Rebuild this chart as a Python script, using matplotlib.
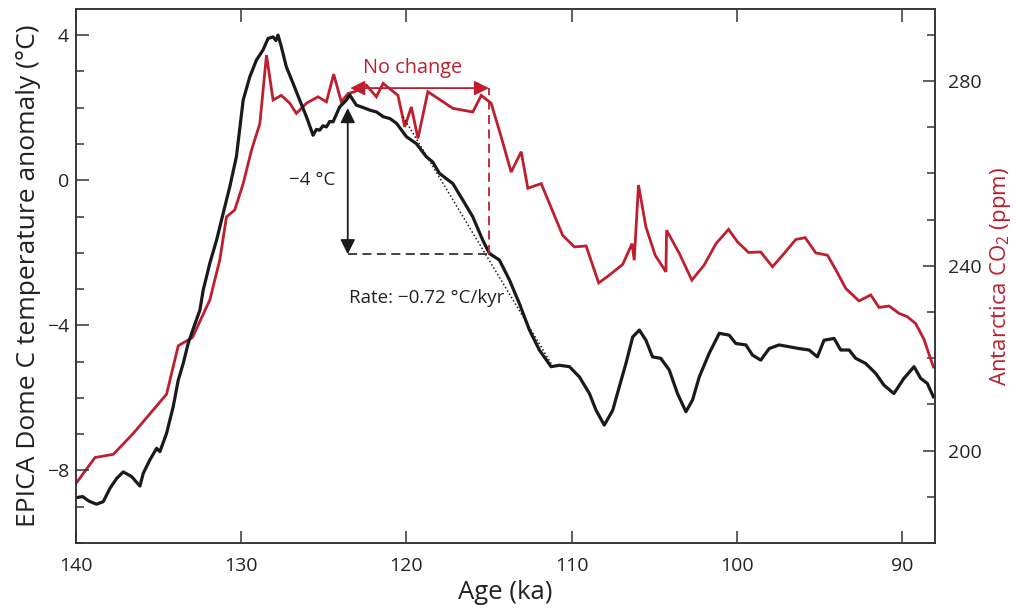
import matplotlib.pyplot as plt
from matplotlib.ticker import MultipleLocator

plt.rcParams['font.family'] = ['Open Sans', 'DejaVu Sans']
plt.rcParams['mathtext.default'] = 'regular'
plt.rcParams['axes.unicode_minus'] = True

# EPICA Dome C temperature anomaly (age in ka, anomaly in °C)
temp_age = [140.0, 139.6, 139.2, 138.75, 138.35, 137.94, 137.54, 137.14, 136.9, 136.63, 136.13, 135.93,
            135.53, 135.12, 134.92, 134.52, 134.12, 133.81, 133.51, 133.21, 132.9,
            132.5, 132.3, 131.9, 131.49, 131.09, 130.69, 130.29, 129.88, 129.48,
            129.08, 128.68, 128.37, 128.07, 127.9, 127.77, 127.57, 127.27, 126.86, 126.46,
            126.05, 125.65, 125.45, 125.25, 125.05, 124.84, 124.64, 124.44, 124.04, 123.63, 123.43, 123.03,
            122.6, 122.2, 121.8, 121.4, 121.0, 120.6, 120.0, 119.4, 118.8, 118.4, 118.0, 117.6, 117.19,
            116.58, 115.98, 115.38, 114.97, 114.37, 113.76, 113.16, 112.55, 111.95, 111.24, 110.74,
            110.13, 109.53, 108.92, 108.52, 108.02, 107.51, 107.11, 106.71, 106.3,
            105.9, 105.5, 105.1, 104.6, 104.09, 103.59, 103.08, 102.68, 102.27,
            101.67, 101.06, 100.46, 100.06, 99.45, 99.05, 98.55, 98.04, 97.44,
            96.83, 96.23, 95.62, 95.12, 94.72, 94.11, 93.71, 93.2, 92.8, 92.2, 91.6,
            91.09, 90.49, 89.88, 89.27, 88.87, 88.47, 88.1]
temp_val = [-8.75, -8.72, -8.85, -8.93, -8.86, -8.49, -8.22, -8.04, -8.1, -8.17, -8.43, -8.08,
            -7.71, -7.39, -7.48, -6.98, -6.25, -5.51, -5.05, -4.5, -4.09,
            -3.58, -3.03, -2.29, -1.65, -0.91, -0.18, 0.65, 2.21, 2.85,
            3.31, 3.59, 3.91, 3.95, 3.85, 4.0, 3.68, 3.13, 2.67, 2.21,
            1.75, 1.24, 1.4, 1.38, 1.5, 1.47, 1.62, 1.61, 2.02, 2.21, 2.35, 2.07,
            2.0, 1.93, 1.88, 1.75, 1.7, 1.57, 1.2, 1.01, 0.65, 0.5, 0.19, 0.05, -0.09,
            -0.55, -1.01, -1.65, -2.02, -2.2, -2.75, -3.4, -4.13, -4.68, -5.14, -5.1,
            -5.14, -5.42, -5.88, -6.34, -6.75, -6.34, -5.69, -5.05, -4.32,
            -4.13, -4.41, -4.87, -4.91, -5.23, -5.88, -6.38, -6.06, -5.42,
            -4.77, -4.22, -4.27, -4.5, -4.54, -4.82, -4.96, -4.64, -4.54,
            -4.59, -4.64, -4.68, -4.87, -4.41, -4.36, -4.68, -4.68, -4.91, -5.05, -5.32,
            -5.65, -5.88, -5.46, -5.14, -5.46, -5.6, -5.97]

# Antarctica CO2 (age in ka, ppm)
co2_age = [140.0, 138.85, 137.74, 136.54, 134.52, 133.81, 132.95, 131.9, 131.3,
           130.89, 130.39, 129.88, 129.38, 128.87, 128.47, 128.07, 127.57, 127.06,
           126.66, 126.05, 125.35, 124.84, 124.4, 123.94, 123.53, 123.13, 122.42,
           121.82, 121.41, 120.51, 120.1, 119.7, 119.3, 118.7, 117.19, 115.98,
           115.47, 114.87, 114.26, 113.66, 113.05, 112.65, 111.84, 110.54, 109.83,
           109.12, 108.36, 107.71, 106.91, 106.34, 106.21, 105.95, 105.5, 104.94,
           104.29, 104.25, 103.48, 102.72, 101.97, 101.26, 100.5, 99.96, 99.29,
           98.55, 97.84, 97.13, 96.43, 95.86, 95.22, 94.51, 94.0, 93.4, 92.6,
           91.89, 91.39, 90.78, 90.18, 89.68, 89.17, 88.67, 88.1]
co2_val = [192.9, 198.5, 199.2, 203.7, 212.2, 222.7, 224.5, 232.6, 241.2,
           250.6, 252.1, 257.8, 265.0, 270.8, 285.6, 275.9, 276.9, 275.2,
           273.0, 275.2, 276.6, 275.5, 281.5, 275.5, 277.3, 277.7, 279.1,
           276.6, 279.5, 276.9, 270.1, 274.4, 267.6, 277.7, 274.1, 273.3,
           276.9, 275.2, 267.9, 260.3, 264.7, 256.8, 257.8, 246.6, 244.1,
           244.3, 236.3, 238.0, 240.3, 244.8, 241.2, 257.5, 248.4, 242.3,
           238.7, 247.7, 242.7, 236.9, 240.2, 244.8, 247.9, 245.2, 242.9,
           243.0, 239.8, 242.7, 245.7, 246.1, 242.8, 242.3, 239.1, 235.1, 232.4,
           233.7, 231.0, 231.3, 229.7, 229.0, 227.5, 224.1, 218.1]

red = '#BE1E2D'
grey = '#333333'

fig = plt.figure(figsize=(10.16, 6.08), dpi=100)
ax = fig.add_axes([0.0748, 0.1069, 0.8455, 0.8783])
ax2 = ax.twinx()
ax.set_zorder(ax2.get_zorder() + 1)
ax.patch.set_visible(False)

ax2.plot(co2_age, co2_val, color=red, lw=2.0, solid_joinstyle='miter')
ax.plot(temp_age, temp_val, color='#1a1a1a', lw=2.3)

ax.set_xlim(140, 88)
ax.set_ylim(-10, 4.72)
ax2.set_ylim(180, 295.6)

ax.xaxis.set_major_locator(MultipleLocator(10))
ax.yaxis.set_major_locator(MultipleLocator(4))
ax.yaxis.set_minor_locator(MultipleLocator(1))
ax2.yaxis.set_major_locator(MultipleLocator(40))
ax2.yaxis.set_minor_locator(MultipleLocator(10))

for a in (ax, ax2):
    for s in a.spines.values():
        s.set_linewidth(1.1)
        s.set_color(grey)
ax.tick_params(axis='both', which='major', direction='in', length=9, width=1.1,
               colors=grey, labelsize=14, labelcolor='#222222', top=True)
ax.tick_params(axis='y', which='minor', direction='in', length=6, width=1.1, colors=grey)
ax.tick_params(axis='x', pad=10)
ax.tick_params(axis='y', pad=5)
ax2.tick_params(axis='y', which='major', direction='in', length=9, width=1.1,
                colors=grey, labelsize=14, labelcolor='#222222', pad=9)
ax2.tick_params(axis='y', which='minor', direction='in', length=6, width=1.1, colors=grey)

ax.set_xlabel('Age (ka)', fontsize=18.5, color='#222222', labelpad=4)
ax.set_ylabel('EPICA Dome C temperature anomaly (°C)', fontsize=19, color='#222222', labelpad=4)
ax2.set_ylabel('Antarctica CO$_2$ (ppm)', fontsize=16, color=red, labelpad=5)

# annotations
x_left, x_right = 123.55, 115.0
y_top, y_bot = 1.99, -2.04
ax.annotate('', xy=(x_left, y_top), xytext=(x_left, y_bot),
            arrowprops=dict(arrowstyle='<|-|>', color='#1a1a1a', lw=1.3,
                            mutation_scale=22, shrinkA=0, shrinkB=0))
ax.plot([x_left, x_right], [y_bot, y_bot], ls=(0, (5, 3)), color=grey, lw=1.3)
ax.plot([x_right, x_right], [y_bot, 2.54], ls=(0, (5, 3)), color=red, lw=1.3)
ax.annotate('', xy=(123.4, 2.54), xytext=(x_right, 2.54),
            arrowprops=dict(arrowstyle='<|-|>', color=red, lw=1.3,
                            mutation_scale=22, shrinkA=0, shrinkB=0))
ax.plot([120.2, 111.24], [1.75, -5.05], ls=(0, (1, 1.5)), color='#1a1a1a', lw=1.1)

ax.text(119.6, 3.1, 'No change', color=red, fontsize=14.3, ha='center', va='center')
ax.text(124.3, 0.0, '−4 °C', color='#222222', fontsize=13.5, ha='right', va='center')
ax.text(118.8, -3.25, 'Rate: −0.72 °C/kyr', color='#222222', fontsize=13.5, ha='center', va='center')

fig.savefig('out.png', dpi=100)
